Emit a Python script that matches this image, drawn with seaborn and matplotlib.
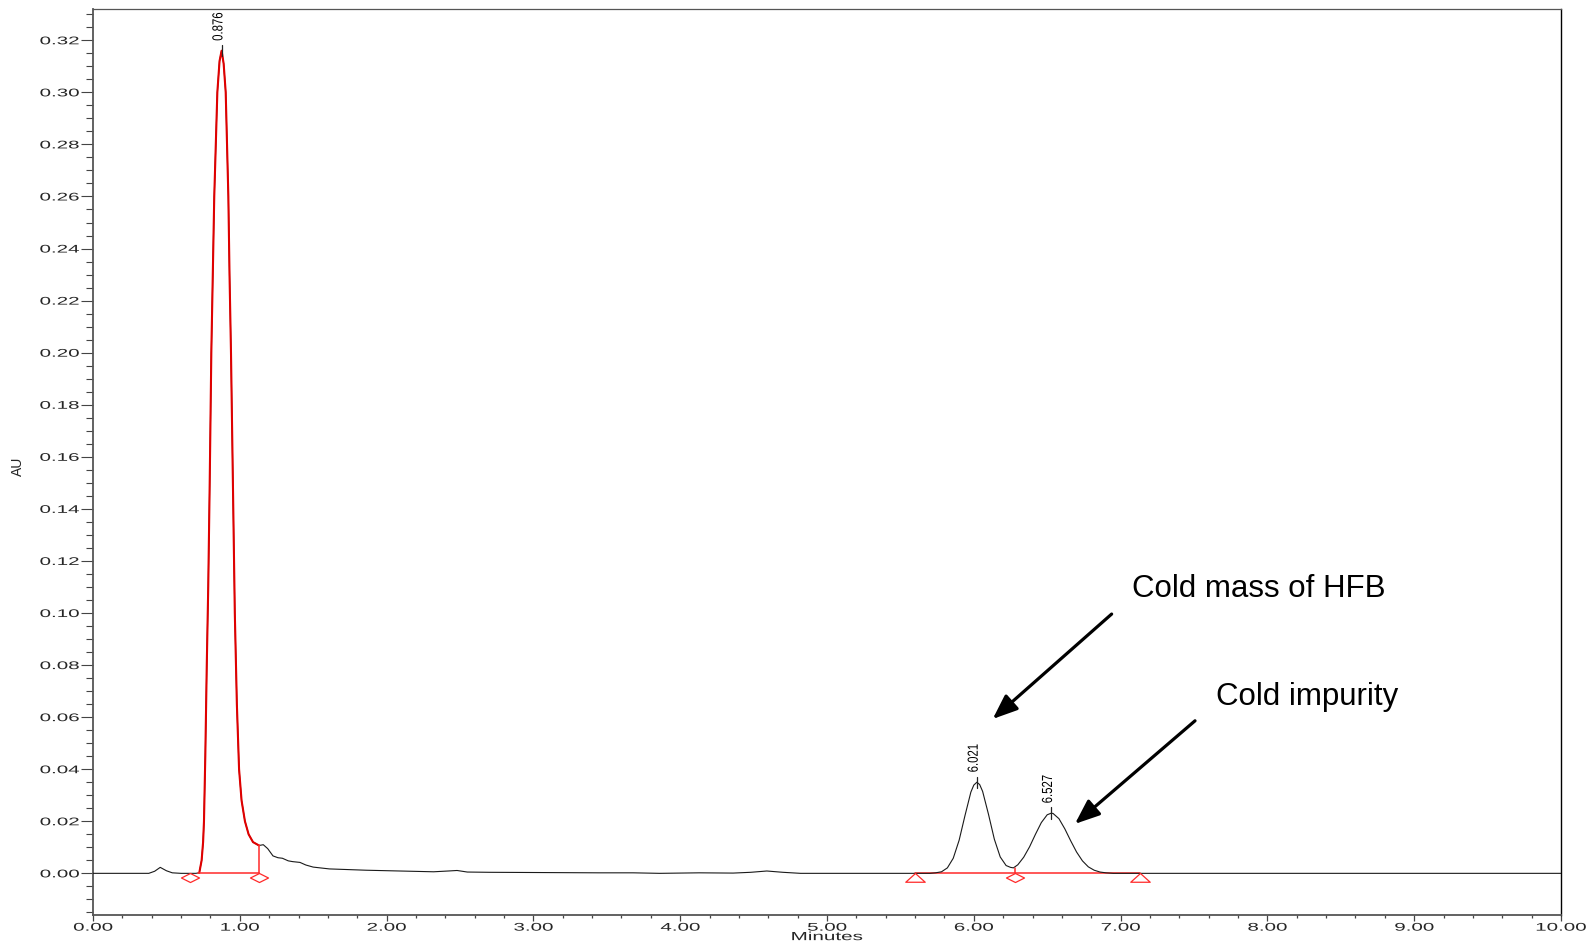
import numpy as np
import pandas as pd
import matplotlib
matplotlib.use("Agg")
import matplotlib.pyplot as plt
from matplotlib.patheffects import AbstractPathEffect
from matplotlib.transforms import Affine2D
from matplotlib.path import Path
from matplotlib.markers import MarkerStyle
import seaborn as sns

# ---- chromatogram trace (minutes, AU) ----
time_min = [
    0.000, 0.300, 0.380, 0.420, 0.458, 0.500, 0.540, 0.600, 0.700,
    0.724, 0.740, 0.750, 0.756, 0.765, 0.775, 0.785, 0.795, 0.806, 0.816,
    0.826, 0.847, 0.862, 0.876, 0.890, 0.904, 0.922, 0.930, 0.940, 0.953,
    0.966, 0.980, 0.995, 1.012, 1.035, 1.060, 1.090, 1.131, 1.160, 1.190,
    1.226, 1.260, 1.290, 1.330, 1.360, 1.410, 1.450, 1.500, 1.610, 1.860,
    2.320, 2.420, 2.480, 2.550, 2.700, 3.450, 3.680, 3.860, 4.130, 4.360,
    4.480, 4.590, 4.700, 4.820, 5.600, 5.700, 5.740, 5.780, 5.820, 5.860,
    5.900, 5.940, 5.980, 6.000, 6.021, 6.040, 6.060, 6.100, 6.140, 6.180,
    6.220, 6.250, 6.270, 6.300, 6.340, 6.380, 6.420, 6.460, 6.500, 6.527,
    6.540, 6.580, 6.620, 6.660, 6.700, 6.740, 6.780, 6.820, 6.860, 6.900,
    6.950, 10.000,
]
absorbance = [
    0.0000, 0.0000, 0.0000, 0.0008, 0.0023, 0.0010, 0.0002, 0.0000, 0.0000,
    0.0002, 0.0050, 0.0120, 0.0200, 0.0450, 0.0800, 0.1100, 0.1500, 0.2000, 0.2300,
    0.2600, 0.3000, 0.3120, 0.3160, 0.3110, 0.3000, 0.2600, 0.2300, 0.2000, 0.1500,
    0.1000, 0.0650, 0.0400, 0.0280, 0.0200, 0.0150, 0.0120, 0.0107, 0.0110, 0.0095,
    0.0067, 0.0060, 0.0058, 0.0048, 0.0045, 0.0042, 0.0032, 0.0024, 0.0017, 0.0012,
    0.0006, 0.0009, 0.0011, 0.0005, 0.0004, 0.0002, 0.0002, 0.0000, 0.0002, 0.0001,
    0.0004, 0.0009, 0.0004, 0.0000, 0.0000, 0.0000, 0.0002, 0.0006, 0.0021, 0.0058,
    0.0127, 0.0222, 0.0312, 0.0339, 0.0350, 0.0341, 0.0315, 0.0227, 0.0131, 0.0063,
    0.0030, 0.0023, 0.0021, 0.0033, 0.0062, 0.0102, 0.0150, 0.0195, 0.0225, 0.0231,
    0.0230, 0.0210, 0.0171, 0.0125, 0.0082, 0.0048, 0.0025, 0.0012, 0.0005, 0.0002,
    0.0000, 0.0000,
]

# ---- integrated peaks ----
peak_rt = [0.876, 6.021, 6.527]
peak_height = [0.3160, 0.0350, 0.0231]
peak_labels = ["0.876", "6.021", "6.527"]

# main peak integration window (start, drop line)
main_window = [0.715, 1.131]
main_markers = [0.661, 1.131]
# second group: baseline start / valley / end
group_start_end = [5.60, 7.13]
group_valley = [6.28]
valley_height = [0.0021]

# axis ticks
y_major = [0.00, 0.02, 0.04, 0.06, 0.08, 0.10, 0.12, 0.14, 0.16,
           0.18, 0.20, 0.22, 0.24, 0.26, 0.28, 0.30, 0.32]
x_major = [0, 1, 2, 3, 4, 5, 6, 7, 8, 9, 10]

annotations = ["Cold mass of HFB", "Cold impurity"]


class Stretch(AbstractPathEffect):
    """Stretch drawn text along its own direction about an anchor."""

    def __init__(self, sx=1.0, anchor="center"):
        super().__init__()
        self.sx = sx
        self.anchor = anchor

    def draw_path(self, renderer, gc, tpath, affine, rgbFace=None):
        ext = tpath.get_extents()
        x0 = {"left": ext.x0, "right": ext.x1,
              "center": 0.5 * (ext.x0 + ext.x1)}[self.anchor]
        tr = Affine2D().translate(-x0, 0).scale(self.sx, 1).translate(x0, 0) + affine
        renderer.draw_path(gc, tpath, tr, rgbFace)


sns.set_theme(style="white")
plt.rcParams["font.family"] = ["Liberation Sans", "DejaVu Sans"]

df = pd.DataFrame({"Minutes": time_min, "AU": absorbance})

fig = plt.figure(figsize=(15.9, 9.45), dpi=100)
ax = fig.add_axes([0.05849, 0.03069, 0.92327, 0.95841])

# full trace
sns.lineplot(data=df, x="Minutes", y="AU", ax=ax, color="#1a1a1a",
             linewidth=0.8, estimator=None, sort=False, zorder=3)

# integrated main peak in red
main = df[(df["Minutes"] >= main_window[0]) & (df["Minutes"] <= main_window[1])]
sns.lineplot(data=main, x="Minutes", y="AU", ax=ax, color="#e00000",
             linewidth=1.5, estimator=None, sort=False, zorder=4)
drop_h = float(np.interp(main_window[1], time_min, absorbance))
red = "#ff2a2a"
ax.plot([main_window[1], main_window[1]], [0, drop_h], color=red, lw=1.1, zorder=4)
ax.plot(main_window, [0, 0], color=red, lw=1.1, zorder=4)

# second group baseline and valley drop
ax.plot(group_start_end, [0, 0], color=red, lw=1.1, zorder=2)
ax.plot([group_valley[0], group_valley[0]], [0, valley_height[0]], color=red, lw=1.1, zorder=4)

diamond = MarkerStyle(Path([(0, 0), (1, -0.5), (0, -1), (-1, -0.5), (0, 0)],
                           [Path.MOVETO, Path.LINETO, Path.LINETO, Path.LINETO, Path.CLOSEPOLY]))
triangle = MarkerStyle(Path([(0, 0), (1, -0.9), (-1, -0.9), (0, 0)],
                            [Path.MOVETO, Path.LINETO, Path.LINETO, Path.CLOSEPOLY]))
ax.plot(main_markers, [0] * len(main_markers), linestyle="none", marker=diamond,
        markersize=13, markerfacecolor="white", markeredgecolor=red, markeredgewidth=0.9, zorder=5)
ax.plot(group_valley, [0] * len(group_valley), linestyle="none", marker=diamond,
        markersize=13, markerfacecolor="white", markeredgecolor=red, markeredgewidth=0.9, zorder=5)
ax.plot(group_start_end, [0] * len(group_start_end), linestyle="none", marker=triangle,
        markersize=14, markerfacecolor="white", markeredgecolor=red, markeredgewidth=0.9, zorder=5)

# apex marks and retention-time labels
for rt, h, lab in zip(peak_rt, peak_height, peak_labels):
    ax.plot([rt, rt], [h - 0.0022, h + 0.0022], color="#222222", lw=0.9, zorder=6)
    t = ax.annotate(lab, xy=(rt, h), xytext=(0.6, 7.0), textcoords="offset points",
                    rotation=90, rotation_mode="anchor", ha="left", va="baseline",
                    fontsize=10.5, color="black", zorder=6)
    t.set_path_effects([Stretch(0.78, "left")])

# callouts
arrow_style = "-|>,head_length=15,head_width=6"
ax.annotate("", xy=(6.129, 0.0593), xytext=(6.939, 0.0996),
            arrowprops=dict(arrowstyle=arrow_style, mutation_scale=1, lw=2.3,
                            color="black", shrinkA=0, shrinkB=0))
ax.annotate("", xy=(6.689, 0.0190), xytext=(7.507, 0.0586),
            arrowprops=dict(arrowstyle=arrow_style, mutation_scale=1, lw=2.3,
                            color="black", shrinkA=0, shrinkB=0))
ax.text(7.075, 0.1064, annotations[0], fontsize=22.5, ha="left", va="baseline", color="black")
ax.text(7.648, 0.0650, annotations[1], fontsize=22.5, ha="left", va="baseline", color="black")

# axes, ticks, labels
ax.set_xlim(0, 10)
ax.set_ylim(-0.0160, 0.3319)
ax.set_xticks(x_major)
ax.set_xticklabels([f"{v:.2f}" for v in x_major])
ax.set_xticks(np.arange(0, 10.001, 0.2), minor=True)
ax.set_yticks(y_major)
ax.set_yticklabels([f"{v:.2f}" for v in y_major])
ax.set_yticks(np.arange(-0.015, 0.3321, 0.005), minor=True)

ax.tick_params(axis="y", which="major", direction="out", length=9, width=0.8,
               color="#444444", pad=1, labelsize=8, left=True)
ax.tick_params(axis="y", which="minor", direction="out", length=5, width=0.8,
               color="#444444", left=True)
ax.tick_params(axis="x", which="major", direction="out", length=4.5, width=0.9,
               color="#444444", pad=1, labelsize=8, bottom=True)
ax.tick_params(axis="x", which="minor", direction="out", length=2.2, width=0.9,
               color="#444444", bottom=True)

for lab in ax.get_yticklabels():
    lab.set_path_effects([Stretch(1.85, "right")])
for lab in ax.get_xticklabels():
    lab.set_path_effects([Stretch(1.85, "center")])

ax.set_xlabel("Minutes", fontsize=8.5)
ax.set_ylabel("AU", fontsize=10)
ax.xaxis.label.set_path_effects([Stretch(1.75, "center")])
ax.xaxis.set_label_coords(0.5, -0.0178)
ax.yaxis.set_label_coords(-0.0463, 0.497)

for side in ["left", "bottom"]:
    ax.spines[side].set_color("#555555")
    ax.spines[side].set_linewidth(1.3)
ax.spines["top"].set_color("#555555")
ax.spines["top"].set_linewidth(0.9)
ax.spines["right"].set_color("black")
ax.spines["right"].set_linewidth(1.0)

fig.savefig("out.png", dpi=100)
